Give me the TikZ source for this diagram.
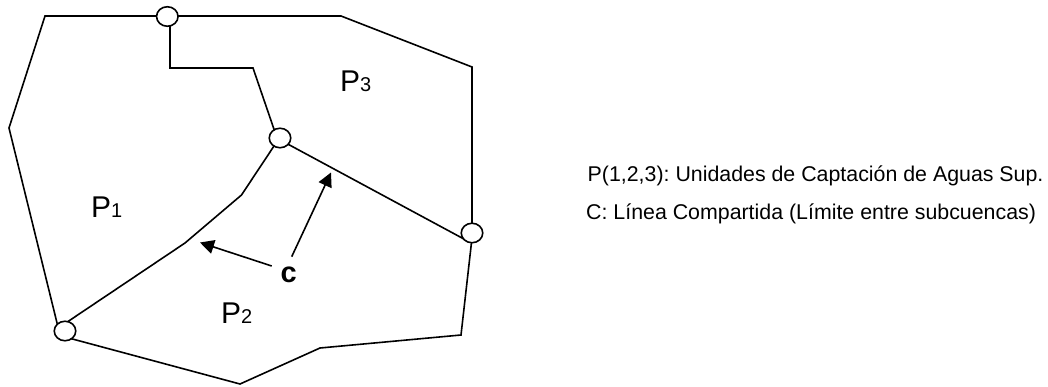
\documentclass[tikz,border=0pt]{standalone}
\usepackage{fontspec}
\setmainfont{Liberation Sans}
\usetikzlibrary{shapes.geometric,arrows.meta}
\tikzset{
  junction/.style={ellipse,draw=black,fill=white,line width=1.6pt,minimum width=21.5pt,minimum height=19.5pt,inner sep=0pt},
  boundary/.style={draw=black,line width=1.6pt,line join=miter},
  pointer/.style={draw=black,line width=1.6pt,-{Triangle[length=14pt,width=14pt]}},
  plabel/.style={inner sep=0pt,anchor=base west,font=\fontsize{30}{30}\selectfont},
  legend/.style={inner sep=0pt,anchor=base west,font=\fontsize{21.35}{21.35}\selectfont\frenchspacing},
}
\newcommand{\psub}[1]{P{\fontsize{20}{20}\selectfont #1}}
\begin{document}
\begin{tikzpicture}[x=1pt,y=-1pt]
\useasboundingbox (0,0) rectangle (1048,387);
% bends
\coordinate (a1) at (45,16);
\coordinate (a2) at (9,128);
\coordinate (b1) at (341,16);
\coordinate (b2) at (472,67);
\coordinate (d1) at (461,335);
\coordinate (d2) at (320,348);
\coordinate (d3) at (240,384);
\coordinate (e1) at (170,68);
\coordinate (e2) at (253,68);
\coordinate (f1) at (241.5,195);
\coordinate (f2) at (185,243);
\coordinate (t1) at (331,172.5);
\coordinate (t2) at (200,242.5);
\coordinate (s1) at (291.7,256.7);
\coordinate (s2) at (271.7,266);
% entry points under the junction circles
\coordinate (tl) at (167,16);
\coordinate (tv) at (170,20);
\coordinate (ma) at (277,138);
\coordinate (mb) at (278,140);
\coordinate (mc) at (283,141.5);
\coordinate (ra) at (472,230);
\coordinate (rb) at (465,239.6);
\coordinate (rc) at (472,238);
\coordinate (la) at (59,331);
\coordinate (lb) at (65,323.5);
\coordinate (lc) at (65,337);
% lines
\draw[boundary] (tl) -- (a1) -- (a2) -- (la);
\draw[boundary] (tl) -- (b1) -- (b2) -- (ra);
\draw[boundary] (rc) -- (d1) -- (d2) -- (d3) -- (lc);
\draw[boundary] (tv) -- (e1) -- (e2) -- (ma);
\draw[boundary] (mb) -- (f1) -- (f2) -- (lb);
\draw[boundary] (mc) -- (rb);
% junctions on top of the lines
\node[junction] (top) at (167.3,16.5) {};
\node[junction] (mid) at (280,138) {};
\node[junction] (right) at (472,233) {};
\node[junction] (low) at (65,331) {};
% labels
\node[plabel] (p1) at (91,218) {\psub{1}};
\node[plabel] (p2) at (221,323) {\psub{2}};
\node[plabel] (p3) at (340,92) {\psub{3}};
\node[inner sep=0pt,anchor=base west,font=\fontsize{29}{29}\selectfont\bfseries] (c) at (280.5,282.5) {c};
\draw[pointer] (s2) -- (t2);
\draw[pointer] (s1) -- (t1);
\node[legend] (l1) at (587.5,181.7) {P(1,2,3): Unidades de Captación de Aguas Sup.};
\node[legend] (l2) at (586,219.3) {C: Línea Compartida (Límite entre subcuencas)};
\end{tikzpicture}
\end{document}
